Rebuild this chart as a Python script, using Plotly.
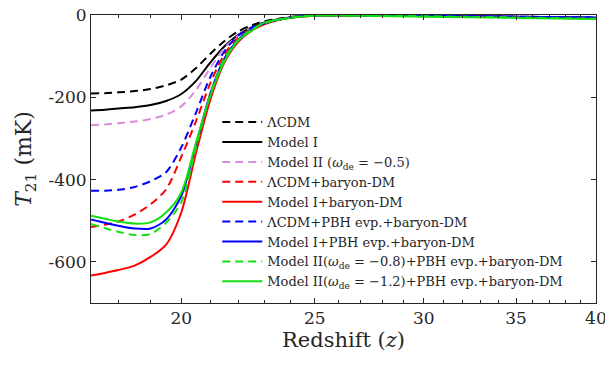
import plotly.graph_objects as go

z = [17.2, 17.6, 18.0, 18.5, 19.0, 19.5, 20.0, 20.5, 21.0, 21.5, 22.0, 22.5, 23.0, 24.0, 25.0, 27.0, 30.0, 35.0, 40.0]

lcdm = [-191, -190, -188, -185, -180, -171, -157, -129, -94, -63, -40, -25, -15, -5, -1, -1, -2, -5, -7]
model1 = [-232, -230, -227, -224, -219, -209, -192, -160, -115, -76, -48, -30, -18, -6, -1, -1, -2, -5, -7]
model2 = [-268, -266, -263, -259, -253, -242, -222, -182, -128, -80, -50, -31, -19, -6, -1, -1, -2, -4, -6]
lcdm_bdm = [-515, -510, -502, -485, -460, -424, -345, -258, -165, -95, -55, -33, -20, -6, -1, -1, -2, -4, -7]
model1_bdm = [-633, -627, -620, -609, -588, -558, -480, -335, -205, -115, -65, -38, -22, -7, -2, -1, -2, -5, -8]
lcdm_pbh = [-427, -427, -425, -418, -404, -382, -322, -237, -150, -88, -50, -30, -18, -6, -1, -1, -2, -4, -6]
model1_pbh = [-497, -505, -512, -519, -519, -497, -440, -315, -190, -105, -60, -35, -20, -6, -1, -1, -2, -4, -6]
model2_08 = [-508, -518, -527, -535, -532, -505, -455, -322, -192, -106, -60, -35, -20, -6, -1, -1, -3, -6, -9]
model2_12 = [-488, -495, -502, -507, -504, -480, -432, -310, -195, -112, -62, -38, -18, -7, -2, -2, -4, -7, -10]

names = [
    "ΛCDM",
    "Model I",
    "Model II (<i>ω</i><sub>de</sub> = −0.5)",
    "ΛCDM+baryon-DM",
    "Model I+baryon-DM",
    "ΛCDM+PBH evp.+baryon-DM",
    "Model I+PBH evp.+baryon-DM",
    "Model II(<i>ω</i><sub>de</sub> = −0.8)+PBH evp.+baryon-DM",
    "Model II(<i>ω</i><sub>de</sub> = −1.2)+PBH evp.+baryon-DM",
]
series = [lcdm, model1, model2, lcdm_bdm, model1_bdm, lcdm_pbh, model1_pbh, model2_08, model2_12]
colors = ["#000000", "#000000", "#D98CD9", "#FF0000", "#FF0000", "#0000FF", "#0000FF", "#12E012", "#12E012"]
dashes = ["8px,5px", "solid", "8px,5px", "8px,5px", "solid", "8px,5px", "solid", "8px,5px", "solid"]

x_ticks = [20, 25, 30, 35, 40]
x_minor = [18, 19, 21, 22, 23, 24, 26, 27, 28, 29, 31, 32, 33, 34, 36, 37, 38, 39]
y_ticks = [0, -200, -400, -600]
y_ticktext = ["0", "-200", "-400", "-600"]

fig = go.Figure()
for name, ys, c, d in zip(names, series, colors, dashes):
    fig.add_trace(go.Scatter(x=z, y=ys, mode="lines", name=name,
                             line=dict(color=c, dash=d, width=2, shape="spline", smoothing=0.8)))

axis_color = "#262626"
font = "DejaVu Serif"
fig.update_layout(
    width=605, height=366,
    margin=dict(l=91, r=9, t=15, b=63),
    paper_bgcolor="white", plot_bgcolor="white",
    font=dict(family=font, size=17, color="#262626"),
    legend=dict(x=0.25, y=0.68, xanchor="left", yanchor="top",
                bgcolor="rgba(255,255,255,0)", font=dict(size=13, color="#262626"),
                tracegroupgap=0, itemwidth=40),
    showlegend=True,
)
fig.update_xaxes(
    type="log", range=[1.2355, 1.60215],
    tickvals=x_ticks, ticktext=[str(v) for v in x_ticks],
    ticks="inside", ticklen=5, tickcolor=axis_color,
    ticklabeloverflow="allow", automargin=False,
    minor=dict(tickvals=x_minor, ticks="inside", ticklen=3, tickcolor=axis_color),
    showline=True, linecolor=axis_color, linewidth=1, mirror="ticks",
    showgrid=False, zeroline=False,
    title=dict(text="Redshift (<i>z</i>)", font=dict(size=21), standoff=4),
)
fig.update_yaxes(
    range=[-700, 0],
    tickvals=y_ticks, ticktext=y_ticktext,
    ticks="inside", ticklen=5, tickcolor=axis_color,
    automargin=False,
    showline=True, linecolor=axis_color, linewidth=1, mirror="ticks",
    showgrid=False, zeroline=False,
    title=dict(text="<i>T</i><sub>21</sub> (mK)", font=dict(size=22), standoff=10),
)

fig.write_html("out.html")
